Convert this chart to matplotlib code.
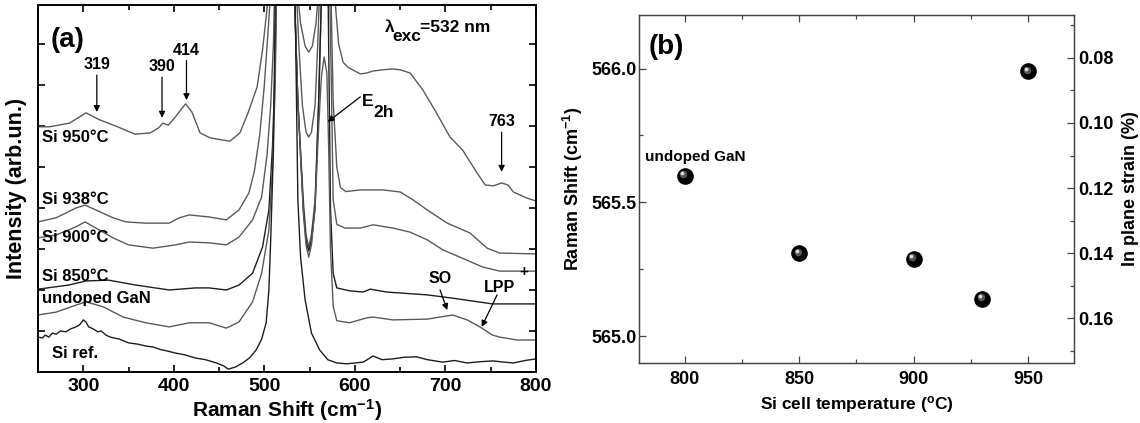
import matplotlib
matplotlib.use("Agg")
import matplotlib.pyplot as plt
from matplotlib.ticker import MultipleLocator, NullFormatter, FormatStrFormatter
from matplotlib.transforms import offset_copy

plt.rcParams['font.family'] = ['Liberation Sans', 'DejaVu Sans']
plt.rcParams['font.weight'] = 'bold'
plt.rcParams['axes.labelweight'] = 'bold'
plt.rcParams['mathtext.fontset'] = 'custom'
plt.rcParams['mathtext.rm'] = 'Liberation Sans:bold'
plt.rcParams['mathtext.it'] = 'Liberation Sans:bold'
plt.rcParams['mathtext.bf'] = 'Liberation Sans:bold'

# ---- panel (a): Raman spectra (offset stacked) ----
x_950 = [250, 263, 285, 303, 318, 338, 357, 374, 383, 388, 394, 401, 413, 420, 429, 440, 453, 462, 473, 482,
         492, 498, 504, 510, 535, 540, 545, 549, 553, 557, 561, 572, 578, 582, 587, 593,
         606, 613, 620, 631, 642, 650, 661, 675, 690, 705, 719, 735, 744, 753, 762, 769, 775, 790, 800]
y_950 = [5.98, 5.98, 6.07, 6.32, 6.15, 5.98, 5.80, 5.83, 5.95, 6.07, 6.02, 6.20, 6.54, 6.34, 5.83, 5.71, 5.66, 5.63, 5.83, 6.32,
         6.95, 7.85, 9.07, 12, 9.6, 8.5, 7.95, 7.80, 7.95, 8.5, 9.6, 12, 9.07, 8.0, 7.55, 7.42,
         7.27, 7.29, 7.34, 7.37, 7.39, 7.37, 7.29, 6.88, 6.32, 5.73, 5.41, 4.85, 4.56, 4.54, 4.61, 4.56, 4.39, 4.24, 4.17]

x_938 = [250, 270, 292, 302, 314, 333, 347, 369, 395, 406, 417, 439, 458, 472, 483, 489, 495, 500, 505, 509, 513,
         534, 538, 542, 546, 549, 552, 556, 559, 562, 571, 576, 580, 584, 590,
         606, 631, 650, 664, 680, 702, 727, 746, 760, 800]
y_938 = [3.66, 3.76, 4.00, 4.07, 3.95, 3.76, 3.66, 3.63, 3.63, 3.76, 3.83, 3.78, 3.71, 3.95, 4.37, 4.9, 5.8, 7.0, 8.6, 10, 12,
         10, 8.0, 6.5, 5.85, 5.73, 5.85, 6.5, 8.0, 10, 12, 6.6, 5.0, 4.5, 4.4,
         4.44, 4.44, 4.39, 4.20, 3.95, 3.63, 3.39, 3.02, 2.90, 2.88]

x_900 = [250, 270, 292, 302, 314, 333, 350, 377, 402, 417, 439, 458, 472, 487, 497, 503, 507, 510, 514,
         532, 537, 543, 546, 549, 552, 556, 560, 564, 570, 574, 576, 580, 589,
         606, 620, 642, 661, 680, 697, 716, 741, 760, 800]
y_900 = [3.27, 3.34, 3.54, 3.66, 3.51, 3.27, 3.10, 3.02, 3.10, 3.17, 3.15, 3.10, 3.29, 3.71, 4.27, 5.3, 6.5, 8.0, 12,
         10, 6.6, 4.2, 3.35, 3.05, 3.35, 4.2, 6.6, 10, 12, 7.0, 4.2, 3.6, 3.51,
         3.51, 3.59, 3.51, 3.41, 3.22, 2.98, 2.80, 2.56, 2.46, 2.46]

x_850 = [250, 284, 303, 328, 358, 395, 424, 439, 458, 472, 487, 498, 505, 509, 512, 515,
         532, 537, 543, 546, 549, 552, 556, 560, 564, 569, 571, 573, 576, 580,
         594, 609, 617, 635, 680, 708, 752, 800]
y_850 = [2.02, 2.12, 2.22, 2.24, 2.12, 2.00, 2.05, 2.05, 2.00, 2.12, 2.41, 3.05, 3.95, 5.5, 7.5, 12,
         10, 6.6, 4.0, 3.2, 2.95, 3.2, 4.0, 6.6, 10, 12, 8.0, 4.0, 2.4, 2.05,
         1.98, 1.95, 2.02, 1.95, 1.88, 1.80, 1.66, 1.66]

x_undoped = [250, 270, 292, 303, 322, 344, 369, 395, 417, 439, 458, 472, 487, 497, 505, 509, 512, 515,
             532, 537, 543, 546, 549, 552, 556, 560, 563, 566, 569, 571, 573, 576, 580,
             594, 613, 620, 642, 680, 708, 724, 738, 752, 760, 779, 800]
y_undoped = [1.39, 1.46, 1.63, 1.71, 1.59, 1.34, 1.20, 1.10, 1.20, 1.20, 1.07, 1.22, 1.71, 2.41, 3.46, 5.0, 7.0, 12,
             10, 6.6, 3.9, 3.1, 2.80, 3.1, 4.0, 6.0, 7.2, 7.68, 7.3, 5.5, 3.0, 1.6, 1.25,
             1.20, 1.32, 1.34, 1.27, 1.29, 1.39, 1.27, 1.10, 0.90, 0.85, 0.78, 0.78]

x_ref = [250, 255, 258, 262, 266, 270, 275, 281, 286, 292, 296, 300, 303, 306, 311, 316, 320, 325, 330, 340,
         350, 360, 370, 377, 385, 395, 402, 412, 424, 435, 447, 455, 460, 468, 476, 484, 491, 497, 502, 505,
         507, 510, 512, 515, 530, 534, 537, 540, 545, 552, 561, 570, 580, 591,
         600, 609, 615, 620, 630, 642, 655, 668, 680, 697, 710, 724, 738, 752, 765, 775, 788, 800]
y_ref = [0.85, 0.83, 0.90, 0.85, 0.95, 0.92, 1.00, 0.98, 1.05, 1.10, 1.15, 1.27, 1.22, 1.10, 1.05, 0.98, 1.00, 0.90, 0.85, 0.80,
         0.71, 0.68, 0.63, 0.61, 0.55, 0.50, 0.46, 0.42, 0.34, 0.30, 0.22, 0.15, 0.07, 0.12, 0.22, 0.35, 0.54, 0.80, 1.20, 2.00,
         3.22, 5.4, 9.07, 12, 12, 9.07, 4.2, 2.8, 1.76, 0.95, 0.54, 0.30, 0.22, 0.20,
         0.22, 0.24, 0.32, 0.39, 0.30, 0.32, 0.36, 0.37, 0.30, 0.24, 0.28, 0.22, 0.25, 0.27, 0.24, 0.22, 0.28, 0.32]

curve_labels = ["Si 950°C", "Si 938°C", "Si 900°C", "Si 850°C", "undoped GaN", "Si ref."]
label_y = [5.71, 4.20, 3.29, 2.34, 1.78, 0.46]

# ---- panel (b): E2h position vs Si cell temperature ----
si_temp = [800, 850, 900, 930, 950]
raman_shift = [565.60, 565.31, 565.29, 565.14, 565.99]

fig = plt.figure(figsize=(11.4, 4.23), dpi=100)

# panel (a)
ax = fig.add_axes([0.0333, 0.1206, 0.4369, 0.8676])
gray = '#5a5a5a'
dark = '#1e1e1e'
ax.plot(x_950, y_950, color=gray, lw=1.0)
ax.plot(x_938, y_938, color=gray, lw=1.0)
ax.plot(x_900, y_900, color=gray, lw=1.0)
ax.plot(x_850, y_850, color=dark, lw=1.0)
ax.plot(x_undoped, y_undoped, color=gray, lw=1.0)
ax.plot(x_ref, y_ref, color=dark, lw=1.0)

ax.set_xlim(250, 800)
ax.set_ylim(0, 8.95)
ax.set_xticks([300, 400, 500, 600, 700, 800])
ax.xaxis.set_minor_locator(MultipleLocator(50))
ax.set_yticks([1, 2, 3, 4, 5, 6, 7, 8])
ax.yaxis.set_major_formatter(NullFormatter())
ax.tick_params(which='both', direction='in', top=True, right=True, width=1.2)
ax.tick_params(which='major', length=5, labelsize=14, pad=4)
ax.tick_params(which='minor', length=3.5)
for s in ax.spines.values():
    s.set_linewidth(1.4)
ax.set_xlabel("Raman Shift (cm$^{-1}$)", fontsize=15, labelpad=2)
ax.set_ylabel("Intensity (arb.un.)", fontsize=15.5, labelpad=4)

for lab, yy in zip(curve_labels, label_y):
    xx = 265 if lab == "Si ref." else 254
    ax.text(xx, yy, lab, fontsize=12, va='center', ha='left')

ax.text(283, 8.1, "(a)", fontsize=20, ha='center', va='center')

# lambda_exc label, subscript kept at near full size as in the original
ax.text(633, 8.41, "λ", fontsize=12.5, ha='left', va='center')
ax.text(641, 8.17, "exc", fontsize=12.5, ha='left', va='center')
ax.text(672, 8.41, "=532 nm", fontsize=12.5, ha='left', va='center')

arrow = dict(arrowstyle='-|>', color='black', lw=0.9, mutation_scale=9, shrinkA=0, shrinkB=0)
ax.annotate("319", xy=(315, 6.34), xytext=(315, 7.49), fontsize=11.5, ha='center', va='center', arrowprops=arrow)
ax.annotate("390", xy=(387, 6.20), xytext=(387, 7.44), fontsize=11.5, ha='center', va='center', arrowprops=arrow)
ax.annotate("414", xy=(414, 6.63), xytext=(414, 7.85), fontsize=11.5, ha='center', va='center', arrowprops=arrow)
ax.annotate("763", xy=(762, 4.88), xytext=(762, 6.10), fontsize=11.5, ha='center', va='center', arrowprops=arrow)
ax.annotate("", xy=(570, 6.10), xytext=(606, 6.71), arrowprops=arrow)
ax.text(607.5, 6.59, "E", fontsize=12.5, ha='left', va='center')
ax.text(620, 6.32, "2h", fontsize=12.5, ha='left', va='center')
ax.annotate("", xy=(702, 1.51), xytext=(694, 2.0), arrowprops=arrow)
ax.text(694, 2.27, "SO", fontsize=11.5, ha='center', va='center')
ax.annotate("", xy=(740, 1.10), xytext=(757, 1.88), arrowprops=arrow)
ax.text(760, 2.05, "LPP", fontsize=11.5, ha='center', va='center')
ax.text(786, 2.44, "+", fontsize=11, ha='center', va='center')

# panel (b)
bx = fig.add_axes([0.5605, 0.1418, 0.3816, 0.8227])
bx.scatter(si_temp, raman_shift, s=120, color='black', zorder=3)
mid = offset_copy(bx.transData, fig=fig, x=-1.5, y=1.5, units='dots')
bx.scatter(si_temp, raman_shift, s=30, color='#555555', zorder=4, transform=mid, linewidths=0)
hi = offset_copy(bx.transData, fig=fig, x=-2.5, y=2.5, units='dots')
bx.scatter(si_temp, raman_shift, s=7, color='#dddddd', zorder=5, transform=hi, linewidths=0)

bx.set_xlim(780, 970)
bx.set_ylim(564.9, 566.2)
bx.set_xticks([800, 850, 900, 950])
bx.xaxis.set_minor_locator(MultipleLocator(25))
bx.set_yticks([565.0, 565.5, 566.0])
bx.yaxis.set_minor_locator(MultipleLocator(0.25))
bx.yaxis.set_major_formatter(FormatStrFormatter('%.1f'))
bx.tick_params(which='both', direction='in', top=True, right=False, width=0.9, color='#444444')
bx.tick_params(which='major', length=5, labelsize=13)
bx.tick_params(axis='y', which='major', pad=2)
bx.tick_params(axis='x', which='major', pad=6)
bx.tick_params(which='minor', length=3)
for s in bx.spines.values():
    s.set_linewidth(0.9)
    s.set_color('#444444')
bx.set_xlabel("Si cell temperature ($^{o}$C)", fontsize=12.5, labelpad=4)
bx.set_ylabel("Raman Shift (cm$^{-1}$)", fontsize=13, labelpad=4)
bx.text(782.5, 565.67, "undoped GaN", fontsize=11, ha='left', va='center')
bx.text(792, 566.08, "(b)", fontsize=20, ha='center', va='center')

br = bx.twinx()
br.set_ylim(0.1738, 0.0668)
br.set_yticks([0.08, 0.10, 0.12, 0.14, 0.16])
br.yaxis.set_minor_locator(MultipleLocator(0.01))
br.yaxis.set_major_formatter(FormatStrFormatter('%.2f'))
br.tick_params(which='both', direction='in', width=0.9, color='#444444')
br.tick_params(which='major', length=5, labelsize=13, pad=3)
br.tick_params(which='minor', length=3)
for s in br.spines.values():
    s.set_linewidth(0.9)
    s.set_color('#444444')
br.set_ylabel("In plane strain (%)", fontsize=13, labelpad=6)

fig.savefig("out.png", dpi=100)
